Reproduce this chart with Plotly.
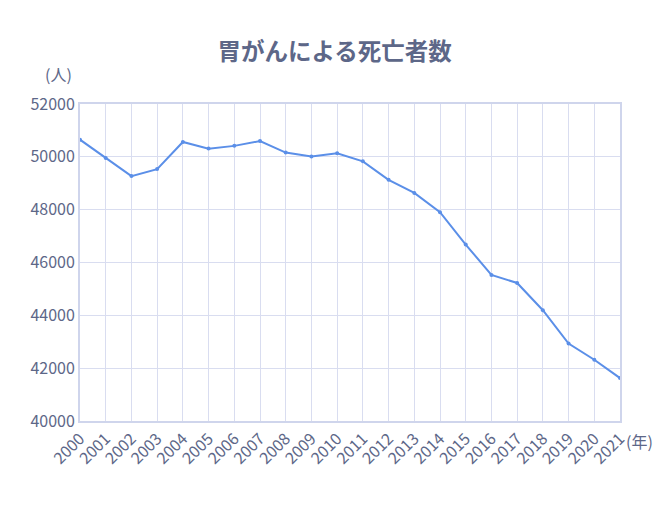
import plotly.graph_objects as go

years = list(range(2000, 2022))
deaths = [50650, 49958, 49270, 49535, 50562, 50311, 50415, 50597, 50160, 50017,
          50136, 49830, 49129, 48632, 47903, 46679, 45531, 45226, 44192, 42931,
          42319, 41624]
y_ticks = [40000, 42000, 44000, 46000, 48000, 50000, 52000]

title_text = "胃がんによる死亡者数"
FONT = "Noto Sans CJK JP"
TXT = "#5d6788"
GRID = "#d9ddf0"
AXIS = "#cfd5ec"

fig = go.Figure()
fig.add_trace(go.Scatter(
    x=years, y=deaths, mode="lines+markers",
    line=dict(color="#5b8fe8", width=2),
    marker=dict(color="#5b8fe8", size=4),
    showlegend=False, hoverinfo="x+y",
))

fig.update_layout(
    width=668, height=511,
    paper_bgcolor="white", plot_bgcolor="white",
    margin=dict(l=72, r=56, t=96, b=98),
    font=dict(family=FONT, color=TXT, size=16),
    title=dict(text="<b>" + title_text + "</b>", x=0.489, xanchor="center",
               y=0.914, yref="container", yanchor="middle",
               font=dict(family=FONT, size=23.5, color="#5d6788")),
    xaxis=dict(range=[2000, 2021], tickvals=years, ticktext=[str(y) for y in years],
               tickangle=-45, showgrid=True, gridcolor=GRID, gridwidth=1,
               showline=True, linecolor=AXIS, linewidth=2, mirror=True,
               zeroline=False, ticks="", tickfont=dict(size=16, color=TXT)),
    yaxis=dict(range=[40000, 52000], tickvals=y_ticks, ticktext=[str(v) for v in y_ticks],
               showgrid=True, gridcolor=GRID, gridwidth=1,
               showline=True, linecolor=AXIS, linewidth=2, mirror=True,
               zeroline=False, ticks="", tickfont=dict(size=16, color=TXT)),
    annotations=[
        dict(text="(人)", x=0, xref="paper", xanchor="right", xshift=-6,
             y=1, yref="paper", yanchor="bottom", yshift=16, showarrow=False,
             font=dict(size=16, color=TXT)),
        dict(text="(年)", x=1, xref="paper", xanchor="left", xshift=4,
             y=0, yref="paper", yanchor="top", yshift=-6, showarrow=False,
             font=dict(size=16, color=TXT)),
    ],
)

fig.write_html("out.html")
